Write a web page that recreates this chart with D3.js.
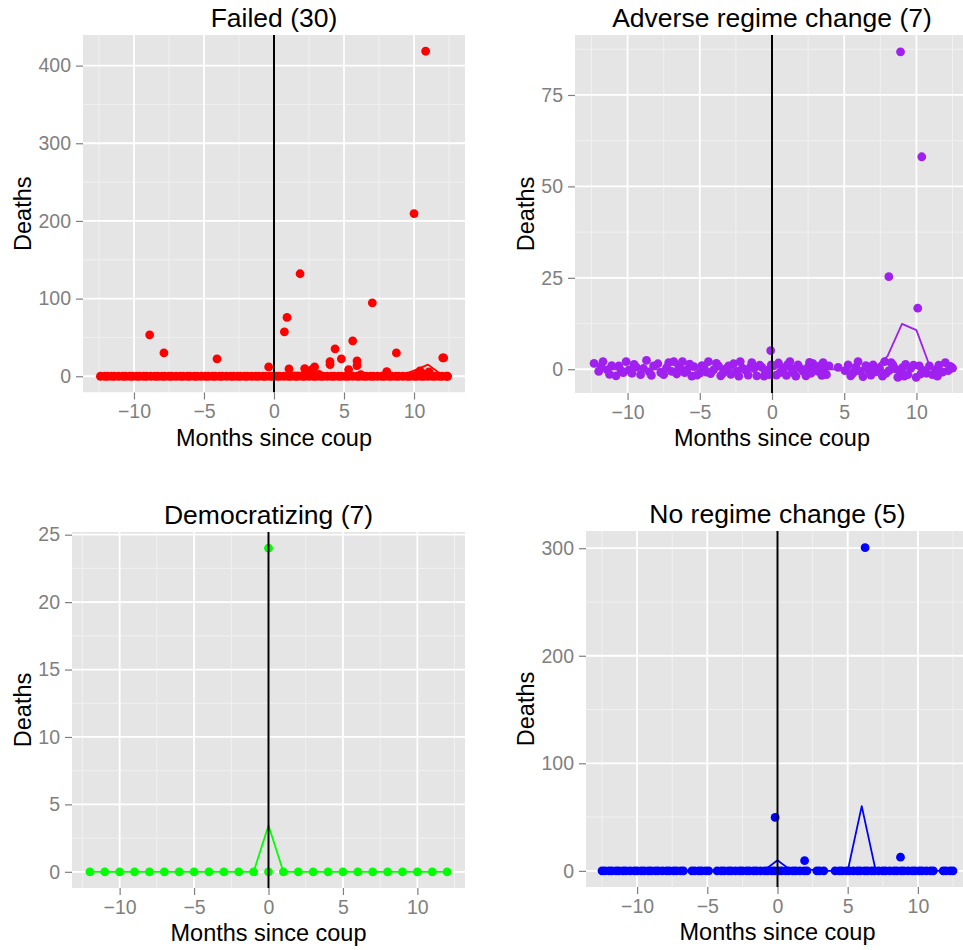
<!DOCTYPE html>
<html>
<head>
<meta charset="utf-8">
<script src="https://cdn.jsdelivr.net/npm/d3@7"></script>
<style>
  body { margin: 0; background: #fff; }
  svg { display: block; font-family: "Liberation Sans", Arial, sans-serif; }
  .tick text { fill: #7f7f7f; font-size: 19.5px; }
  .tick line { stroke: #7f7f7f; stroke-width: 1.2; }
  .domain { display: none; }
</style>
</head>
<body>
<svg id="chart" width="963" height="950"></svg>
<script>
// months for the monthly mean lines
const monthSteps = [-12,-11,-10,-9,-8,-7,-6,-5,-4,-3,-2,-1,0,1,2,3,4,5,6,7,8,9,10,11,12];
const xTicks = [-10, -5, 0, 5, 10];
const xMinor = [-12.5, -7.5, -2.5, 2.5, 7.5, 12.5];

// ---- Failed (30)
const failedZeroX = [-12.4,-12.1,-11.9,-11.6,-11.4,-11.1,-10.8,-10.6,-10.3,-10.1,-9.8,-9.6,-9.3,-9.1,-8.8,-8.5,-8.3,-8.0,-7.8,-7.5,-7.3,-7.0,-6.7,-6.5,-6.2,-6.0,-5.7,-5.5,-5.2,-4.9,-4.7,-4.4,-4.2,-3.9,-3.7,-3.4,-3.1,-2.9,-2.6,-2.4,-2.1,-1.9,-1.6,-1.3,-1.1,-0.8,-0.6,-0.3,-0.1,0.2,0.4,0.7,1.0,1.2,1.5,1.7,2.0,2.2,2.5,2.8,3.0,3.3,3.5,3.8,4.1,4.3,4.6,4.8,5.1,5.3,5.6,5.9,6.1,6.4,6.6,6.9,7.1,7.4,7.7,7.9,8.2,8.4,8.7,8.9,9.2,9.5,9.7,10.0,10.2,10.5,10.7,11.0,11.3,11.5,11.8,12.0,12.3,12.4];
const failedPts = [
  [10.83,418.5],[10.0,209.5],[1.86,132],[7.02,94.6],[0.93,75.7],[0.74,57.2],
  [-8.88,53.3],[5.62,45.6],[4.36,35.3],[-7.86,30.1],[8.74,30.1],[-4.07,22.4],
  [12.05,23.7],[12.12,23.7],[4.81,22.4],[4.0,18.9],[4.0,15.0],[5.93,19.8],[5.93,13.8],
  [-0.38,12.0],[1.07,9.5],[2.19,9.9],[2.9,12.0],[2.7,8.5],[5.33,8.6],[8.05,6.0],
  [10.43,6.9],[11.07,5.6],[10.3,4.0],[10.7,3.0],[2.5,3.0],[3.2,2.5],[6.2,2.0]
];
const failedMeans = [0,0,0,1.8,1.0,0,0,0,0.75,0,0,0,0.4,4.7,4.7,0.4,3.0,1.0,2.6,3.2,0.2,1.0,7.2,15.0,1.6];

// ---- Adverse regime change (7)
const adversePts = [
  [8.9,86.8],[10.37,58.1],[8.09,25.3],[10.09,16.7],[-0.09,5.1],
  [-12.32,1.6],[-12.0,-0.6],[-11.85,0.8],[-11.7,2.1],[-11.4,-0.2],[-11.25,-1.4],[-11.1,1.0],
  [-10.8,-1.8],[-10.6,0.9],[-10.45,-0.4],[-10.3,-0.9],[-10.1,2.1],[-9.9,-0.2],[-9.7,-1.1],
  [-9.55,1.3],[-9.4,0.6],[-9.1,-1.5],[-8.9,0.2],[-8.69,2.4],[-8.5,-0.7],[-8.35,-1.7],
  [-8.2,0.9],[-7.9,1.5],[-7.7,-0.9],[-7.5,-1.5],[-7.3,0.4],[-7.15,1.8],[-6.95,-0.6],
  [-6.8,2.1],[-6.6,-1.3],[-6.46,0.9],[-6.3,-0.1],[-6.2,2.1],[-6.05,-0.9],[-5.9,-0.2],
  [-5.7,1.4],[-5.55,-1.9],[-5.4,0.7],[-5.2,-1.6],[-5.0,-1.1],[-4.85,1.0],[-4.7,0.4],
  [-4.55,-0.8],[-4.4,2.1],[-4.25,-1.2],[-4.05,-0.2],[-3.85,1.6],[-3.7,0.9],[-3.55,-1.8],
  [-3.4,-1.1],[-3.2,0.1],[-3.0,0.9],[-2.85,-1.4],[-2.66,1.5],[-2.45,-0.6],[-2.3,-1.9],
  [-2.2,2.1],[-2.05,0.3],[-1.86,-0.2],[-1.65,-1.6],[-1.5,0.6],[-1.4,1.8],[-1.25,0.2],
  [-1.05,-1.8],[-0.85,1.1],[-0.7,0.5],[-0.55,-1.9],[-0.45,-1.0],[-0.25,-0.2],[-0.18,-1.5],
  [-0.05,1.2],[0.1,0.9],[0.3,-1.6],[0.45,1.7],[0.55,-0.9],[0.8,0.4],[1.0,-1.7],
  [1.1,1.3],[1.24,2.1],[1.35,0.2],[1.47,-0.9],[1.65,-1.9],[1.8,1.2],[2.0,0.1],
  [2.16,-0.6],[2.35,-1.8],[2.5,0.5],[2.6,1.9],[2.7,-1.1],[2.85,1.5],[3.0,0.3],
  [3.2,-0.6],[3.35,1.0],[3.45,-1.7],[3.54,1.8],[3.65,0.4],[3.77,-1.5],[3.95,0.9],
  [4.58,0.5],[5.05,-0.4],[5.27,1.2],[5.45,-1.8],[5.6,-1.1],[5.8,0.6],[5.96,2.1],
  [6.1,-0.5],[6.3,-2.0],[6.5,1.0],[6.65,-0.2],[6.85,-1.6],[7.0,1.2],[7.2,-0.7],
  [7.45,0.3],[7.65,-1.9],[7.8,2.1],[7.9,-1.1],[8.1,-0.4],[8.25,1.8],[8.37,1.2],
  [8.55,0.1],[8.71,-2.2],[8.9,-0.9],[9.06,0.5],[9.15,-1.9],[9.25,1.3],[9.4,-1.5],
  [9.6,0.2],[9.8,1.1],[9.98,-2.2],[10.2,0.9],[10.3,-1.3],[10.45,-0.3],[10.7,-1.1],
  [10.9,0.9],[11.1,-1.5],[11.35,-0.2],[11.45,-1.9],[11.55,1.1],[11.8,-0.8],[12.0,1.8],
  [12.2,-0.4],[12.35,0.8],[12.5,0.3]
];
const adverseMeans = [0,0,0,0,0,0,0,0,0,0,0,0,0.73,0,0,0,0,0,0,0,3.6,12.4,10.7,0,0];

// ---- Democratizing (7)
const demoPts = [[0,24]];
const demoZeroX = [-12,-11,-10,-9,-8,-7,-6,-5,-4,-3,-2,-1,0,1,2,3,4,5,6,7,8,9,10,11,12];
const demoMeans = [0,0,0,0,0,0,0,0,0,0,0,0,3.43,0,0,0,0,0,0,0,0,0,0,0,0];

// ---- No regime change (5)
const noChangeZeroX = [-12.5,-12.3,-12.0,-11.8,-11.5,-11.3,-11.0,-10.8,-10.5,-10.2,-10.0,-9.7,-9.5,-9.2,-9.0,-8.7,-8.5,-8.2,-7.9,-7.7,-7.4,-7.2,-6.9,-6.7,-6.1,-5.9,-5.6,-5.4,-5.1,-4.9,-4.3,-4.0,-3.8,-3.5,-3.3,-3.0,-2.7,-2.5,-2.2,-2.0,-1.7,-1.5,-1.2,-0.9,-0.7,-0.4,-0.2,0.1,0.3,0.6,0.8,1.1,1.3,1.6,1.9,2.1,2.8,3.0,3.3,4.1,4.4,4.6,4.9,5.1,5.4,5.7,5.9,6.2,6.4,6.7,6.9,7.2,7.5,7.7,8.0,8.3,8.5,8.8,9.0,9.3,9.6,9.8,10.1,10.3,10.6,10.9,11.1,11.8,12.0,12.3,12.5];
const noChangePts = [[6.24,300.5],[-0.17,49.7],[1.93,9.5],[8.76,12.7]];
const noChangeMeans = [0,0,0,0,0,0,0,0,0,0,0,0,9.9,0,1.9,0,0,0,60.2,0,0,2.6,0,0,0];

const svg = d3.select('#chart');

function drawPanel(p) {

    let x = d3.scaleLinear().domain(p.xDomain).range([p.left, p.right]);
    let y = d3.scaleLinear().domain(p.yDomain).range([p.bottom, p.top]);

    let g = svg.append('g');

    let clipId = 'clip-' + p.id;
    g.append('clipPath').attr('id', clipId)
        .append('rect')
        .attr('x', p.left).attr('y', p.top)
        .attr('width', p.right - p.left).attr('height', p.bottom - p.top);

    let plot = g.append('g').attr('clip-path', 'url(#' + clipId + ')');

    // panel background
    plot.append('rect')
        .attr('x', p.left).attr('y', p.top)
        .attr('width', p.right - p.left).attr('height', p.bottom - p.top)
        .attr('fill', '#e5e5e5');

    // minor grid
    plot.selectAll('.vminor').data(xMinor).enter().append('line')
        .attr('x1', d => x(d)).attr('x2', d => x(d))
        .attr('y1', p.top).attr('y2', p.bottom)
        .attr('stroke', '#f2f2f2').attr('stroke-width', 0.9);
    plot.selectAll('.hminor').data(p.yMinor).enter().append('line')
        .attr('y1', d => y(d)).attr('y2', d => y(d))
        .attr('x1', p.left).attr('x2', p.right)
        .attr('stroke', '#f2f2f2').attr('stroke-width', 0.9);

    // major grid
    plot.selectAll('.vmajor').data(xTicks).enter().append('line')
        .attr('x1', d => x(d)).attr('x2', d => x(d))
        .attr('y1', p.top).attr('y2', p.bottom)
        .attr('stroke', '#ffffff').attr('stroke-width', 1.8);
    plot.selectAll('.hmajor').data(p.yTicks).enter().append('line')
        .attr('y1', d => y(d)).attr('y2', d => y(d))
        .attr('x1', p.left).attr('x2', p.right)
        .attr('stroke', '#ffffff').attr('stroke-width', 1.8);

    // points
    let pts = p.zeroX.map(m => [m, 0]).concat(p.points);
    plot.selectAll('circle').data(pts).enter().append('circle')
        .attr('cx', d => x(d[0]))
        .attr('cy', d => y(d[1]))
        .attr('r', 4.4)
        .attr('fill', p.color);

    // monthly mean line
    let lineGenerator = d3.line()
        .x((d, i) => x(monthSteps[i]))
        .y(d => y(d));
    plot.append('path')
        .attr('d', lineGenerator(p.means))
        .attr('fill', 'none')
        .attr('stroke', p.color)
        .attr('stroke-width', 1.8)
        .attr('stroke-linejoin', 'round');

    // coup line
    plot.append('line')
        .attr('x1', x(0)).attr('x2', x(0))
        .attr('y1', p.top).attr('y2', p.bottom)
        .attr('stroke', '#000').attr('stroke-width', 2);

    // axes
    const xAxisGroup = g.append('g').attr('transform', 'translate(0,' + p.bottom + ')');
    xAxisGroup.call(d3.axisBottom(x).tickValues(xTicks).tickSize(7).tickPadding(5));
    const yAxisGroup = g.append('g').attr('transform', 'translate(' + p.left + ',0)');
    yAxisGroup.call(d3.axisLeft(y).tickValues(p.yTicks).tickSize(7).tickPadding(5));

    // titles
    g.append('text')
        .attr('x', (p.left + p.right) / 2).attr('y', p.top - 8)
        .attr('text-anchor', 'middle')
        .attr('font-size', '26.5px')
        .text(p.title);

    g.append('text')
        .attr('x', (p.left + p.right) / 2).attr('y', p.bottom + 53)
        .attr('text-anchor', 'middle')
        .attr('font-size', '23.5px')
        .text('Months since coup');

    g.append('text')
        .attr('transform', 'translate(' + p.yTitleX + ',' + (p.top + p.bottom) / 2 + ') rotate(-90)')
        .attr('text-anchor', 'middle')
        .attr('font-size', '23.5px')
        .text('Deaths');
}

drawPanel({
    id: 'failed', title: 'Failed (30)', color: '#ff0000',
    left: 83, right: 465, top: 35, bottom: 392.5, yTitleX: 31,
    xDomain: [-13.64, 13.64], yDomain: [-20.9, 439.4],
    yTicks: [0, 100, 200, 300, 400], yMinor: [50, 150, 250, 350],
    zeroX: failedZeroX, points: failedPts, means: failedMeans
});

drawPanel({
    id: 'adverse', title: 'Adverse regime change (7)', color: '#a020f0',
    left: 575, right: 969, top: 35, bottom: 393, yTitleX: 534,
    xDomain: [-13.64, 13.64], yDomain: [-6.5, 91.4],
    yTicks: [0, 25, 50, 75], yMinor: [12.5, 37.5, 62.5, 87.5],
    zeroX: [], points: adversePts, means: adverseMeans
});

drawPanel({
    id: 'demo', title: 'Democratizing (7)', color: '#00ff00',
    left: 72, right: 465, top: 532, bottom: 888, yTitleX: 31,
    xDomain: [-13.2, 13.2], yDomain: [-1.2, 25.2],
    yTicks: [0, 5, 10, 15, 20, 25], yMinor: [2.5, 7.5, 12.5, 17.5, 22.5],
    zeroX: demoZeroX, points: demoPts, means: demoMeans
});

drawPanel({
    id: 'nochange', title: 'No regime change (5)', color: '#0000ff',
    left: 586, right: 969, top: 531, bottom: 887, yTitleX: 534,
    xDomain: [-13.64, 13.64], yDomain: [-15, 316],
    yTicks: [0, 100, 200, 300], yMinor: [50, 150, 250],
    zeroX: noChangeZeroX, points: noChangePts, means: noChangeMeans
});
</script>
</body>
</html>
